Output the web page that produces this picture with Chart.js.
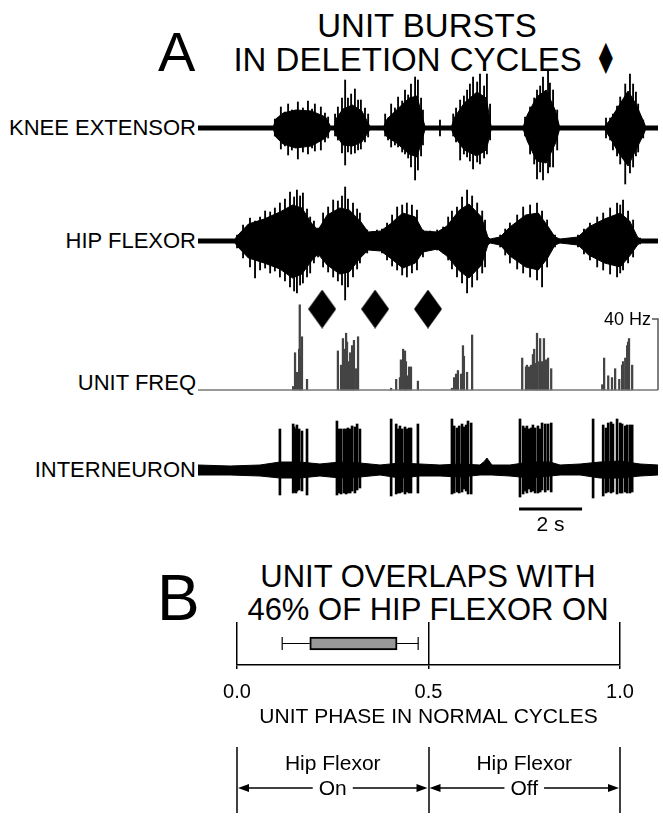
<!DOCTYPE html>
<html>
<head>
<script src="https://cdn.jsdelivr.net/npm/chart.js@4.4.1/dist/chart.umd.min.js"></script>
<style>
    body { margin: 0; background: #fff; }
    #page { position: relative; width: 663px; height: 816px; overflow: hidden;
            font-family: 'Liberation Sans', Arial, Helvetica, sans-serif; color: #000; }
    .txt { position: absolute; white-space: nowrap; line-height: 1; }
    .lbl { position: absolute; right: 467px; font-size: 22px; line-height: 1; white-space: nowrap; }
    .dia { font-family: 'DejaVu Sans', sans-serif; display: inline-block; transform: scale(0.75, 1.3); }
    canvas { position: absolute; }
</style>
</head>
<body>
<div id="page">
    <div class="txt" style="left:158px; top:24px; font-size:56px;">A</div>
    <div class="txt" style="left:227px; width:400px; text-align:center; top:9px; font-size:33px;">UNIT BURSTS</div>
    <div class="txt" style="left:227px; width:400px; text-align:center; top:43px; font-size:33px;">IN DELETION CYCLES <span class="dia">♦</span></div>

    <div class="lbl" style="top:117px;">KNEE EXTENSOR</div>
    <div class="lbl" style="top:230px;">HIP FLEXOR</div>
    <div class="lbl" style="top:372px;">UNIT FREQ</div>
    <div class="lbl" style="top:459px;">INTERNEURON</div>

    <canvas id="knee" width="465" height="135" style="left:198px; top:55px;"></canvas>
    <canvas id="hip" width="465" height="130" style="left:198px; top:180px;"></canvas>
    <canvas id="freq" width="465" height="114" style="left:198px; top:286px;"></canvas>
    <canvas id="inter" width="465" height="128" style="left:198px; top:412px;"></canvas>

    <div class="txt" style="left:157px; top:566px; font-size:64px;">B</div>
    <div class="txt" style="left:228px; width:400px; text-align:center; top:561px; font-size:31px;">UNIT OVERLAPS WITH</div>
    <div class="txt" style="left:228px; width:400px; text-align:center; top:594px; font-size:31px;">46% OF HIP FLEXOR ON</div>

    <canvas id="phase" width="663" height="216" style="left:0px; top:600px;"></canvas>
</div>

<script>
    // sweep length in seconds
    const sweep = [0, 14.6]

    // EMG: solid body of each burst [time s, upper, lower] (arbitrary units)
    const kneeCore = [
        [0, 2, 2], [2.40, 2, 2], [2.47, 9, 9], [2.70, 15, 16], [3.10, 18, 20], [3.60, 17, 18], [4.05, 11, 10], [4.20, 2, 2],
        [4.33, 2, 2], [4.40, 10, 8], [4.60, 19, 17], [4.90, 23, 18], [5.20, 17, 14], [5.45, 2, 2],
        [5.90, 2, 2], [6.00, 9, 9], [6.30, 18, 15], [6.70, 30, 26], [6.95, 32, 29], [7.12, 11, 11], [7.20, 2, 2],
        [8.05, 2, 2], [8.15, 11, 9], [8.45, 25, 22], [8.85, 36, 28], [9.15, 30, 22], [9.30, 2, 2],
        [10.33, 2, 2], [10.45, 13, 13], [10.75, 31, 33], [11.05, 38, 35], [11.35, 17, 15], [11.47, 2, 2],
        [12.92, 2, 2], [13.10, 9, 11], [13.35, 22, 25], [13.65, 37, 38], [13.90, 24, 22], [14.15, 6, 6], [14.20, 2, 2],
        [14.60, 2, 2]
    ]
    // EMG: peak excursions [time s, up, down]
    const kneePeaks = [
        [2.44, 9, 8], [2.63, 21, 21], [2.76, 16, 18], [2.86, 24, 27], [2.98, 18, 22], [3.17, 26, 31], [3.33, 20, 24],
        [3.49, 27, 26], [3.62, 19, 20], [3.71, 24, 23], [3.90, 21, 22], [4.03, 15, 14], [4.13, 11, 10],
        [4.35, 14, 8], [4.44, 21, 12], [4.57, 30, 25], [4.67, 48, 37], [4.76, 30, 24], [4.86, 34, 26], [4.98, 39, 25],
        [5.08, 28, 22], [5.17, 28, 21], [5.30, 20, 14], [5.40, 14, 9],
        [5.94, 14, 8], [6.03, 10, 12], [6.13, 24, 19], [6.25, 20, 17], [6.35, 31, 19], [6.48, 27, 24],
        [6.57, 38, 26], [6.67, 33, 30], [6.76, 44, 39], [6.89, 51, 52], [6.98, 48, 42], [7.08, 30, 28], [7.14, 18, 17],
        [7.68, 8, 8],
        [8.10, 14, 8], [8.19, 20, 14], [8.32, 28, 32], [8.44, 32, 26], [8.54, 38, 29], [8.63, 44, 33],
        [8.73, 51, 41], [8.86, 46, 34], [8.95, 54, 36], [9.08, 42, 30], [9.17, 54, 26], [9.27, 24, 12],
        [10.38, 11, 8], [10.54, 21, 26], [10.67, 30, 36], [10.76, 38, 51], [10.86, 42, 44], [10.95, 51, 52],
        [11.11, 58, 45], [11.17, 45, 39], [11.27, 38, 39], [11.40, 18, 22],
        [12.95, 10, 10], [13.08, 10, 12], [13.17, 14, 22], [13.30, 22, 28], [13.40, 31, 36], [13.56, 44, 56],
        [13.71, 54, 45], [13.81, 44, 39], [13.90, 36, 28], [13.97, 24, 24], [14.13, 8, 10]
    ]
    const hipCore = [
        [0, 2, 2], [1.17, 2, 2], [1.30, 7, 7], [1.60, 17, 17], [2.10, 22, 22], [2.60, 29, 28], [3.00, 36, 37], [3.30, 33, 33],
        [3.60, 18, 20], [3.81, 11, 13], [4.10, 26, 24], [4.50, 33, 33], [4.80, 31, 31], [5.15, 20, 17], [5.40, 9, 9],
        [5.80, 10, 10], [6.10, 17, 17], [6.50, 28, 27], [6.90, 24, 22], [7.14, 10, 11], [7.60, 9, 8], [7.90, 15, 15],
        [8.30, 31, 30], [8.60, 37, 37], [9.00, 24, 24], [9.20, 4, 4], [9.27, 2, 2], [9.59, 4, 4],
        [9.90, 14, 15], [10.40, 26, 26], [10.80, 28, 29], [11.10, 15, 17], [11.33, 4, 4], [11.49, 2, 2],
        [12.06, 4, 4], [12.40, 14, 14], [12.90, 22, 22], [13.40, 28, 26], [13.70, 20, 15], [13.95, 4, 4], [14.03, 2, 2],
        [14.60, 2, 2]
    ]
    const hipPeaks = [
        [1.24, 6, 7], [1.43, 16, 17], [1.65, 23, 26], [1.81, 20, 37], [1.97, 24, 29],
        [2.13, 30, 27], [2.29, 29, 32], [2.44, 33, 30], [2.60, 38, 36], [2.76, 42, 40], [2.92, 49, 46], [3.05, 44, 50],
        [3.14, 51, 52], [3.24, 45, 44], [3.33, 48, 42], [3.46, 32, 36], [3.56, 24, 32], [3.68, 20, 22], [3.81, 13, 16],
        [3.97, 28, 26], [4.13, 34, 31], [4.29, 41, 36], [4.44, 40, 40], [4.57, 45, 44], [4.67, 54, 59], [4.76, 42, 46],
        [4.92, 38, 36], [5.05, 32, 28], [5.14, 28, 22], [5.37, 11, 12], [5.52, 9, 8], [5.68, 11, 9], [5.84, 12, 12],
        [6.00, 18, 19], [6.16, 26, 25], [6.32, 34, 29], [6.48, 36, 34], [6.63, 38, 36], [6.79, 36, 32], [6.95, 31, 29],
        [7.14, 11, 16], [7.37, 10, 9], [7.59, 11, 9], [7.78, 14, 12], [7.94, 24, 19], [8.06, 30, 28], [8.22, 34, 36],
        [8.38, 44, 42], [8.54, 51, 52], [8.70, 45, 46], [8.86, 38, 39], [9.02, 30, 32], [9.11, 21, 26],
        [9.59, 6, 6], [9.75, 12, 14], [9.90, 18, 22], [10.13, 26, 28], [10.32, 34, 32], [10.54, 36, 36], [10.76, 38, 39],
        [10.92, 30, 46], [11.08, 21, 26], [11.33, 6, 6],
        [12.06, 6, 6], [12.25, 12, 13], [12.44, 18, 19], [12.67, 24, 26], [12.86, 28, 29], [13.08, 33, 33], [13.30, 38, 36],
        [13.40, 36, 32], [13.49, 41, 29], [13.65, 30, 22], [13.81, 21, 16], [14.03, 3, 3]
    ]

    // unit instantaneous frequency: [time s, Hz]
    const unitFreq = [
        [3.02, 2], [3.08, 21], [3.14, 10], [3.21, 23], [3.23, 48], [3.27, 19], [3.30, 30], [3.46, 6],
        [4.44, 22], [4.54, 14], [4.57, 9], [4.60, 29], [4.67, 23], [4.70, 32], [4.73, 27], [4.79, 16], [4.83, 21],
        [4.89, 25], [4.92, 11], [4.95, 28], [5.02, 12], [5.08, 30],
        [6.13, 1], [6.29, 6], [6.41, 7], [6.44, 17], [6.51, 23], [6.57, 22], [6.60, 16], [6.63, 8], [6.70, 13], [6.76, 13], [6.98, 5],
        [8.06, 1], [8.13, 7], [8.19, 9], [8.25, 11], [8.35, 9], [8.41, 25], [8.44, 19], [8.54, 10], [8.70, 31],
        [10.29, 18], [10.41, 13], [10.44, 14], [10.51, 13], [10.57, 14], [10.63, 20], [10.67, 23], [10.73, 15], [10.76, 32],
        [10.83, 16], [10.86, 29], [10.92, 16], [10.98, 29], [11.05, 17], [11.11, 18], [11.21, 12],
        [12.83, 3], [12.89, 18], [13.02, 8], [13.14, 7], [13.24, 12], [13.37, 6], [13.46, 14], [13.49, 16], [13.56, 18],
        [13.62, 25], [13.65, 27], [13.68, 29], [13.78, 14]
    ]
    const freqScale = 40
    // deletion cycles (diamonds), time s
    const deletionCycles = [3.94, 5.62, 7.30]
    const diamondLevel = 45.6

    // interneuron: baseline noise [time, up, down], spikes [time, up, down]
    const interNoise = [
        [0, 5, 5], [1.02, 4, 5], [1.97, 5, 6], [2.60, 8, 8], [3.24, 8, 8], [3.87, 6, 6], [4.51, 8, 8], [5.14, 7, 7],
        [5.78, 5, 5], [6.41, 7, 8], [7.05, 6, 6], [7.68, 5, 6], [8.32, 6, 7], [8.95, 5, 5], [9.10, 9, 5], [9.17, 12, 5],
        [9.26, 8, 5], [9.33, 5, 5],
        [9.90, 5, 6], [10.54, 8, 8], [11.17, 8, 6], [11.49, 5, 5], [12.13, 6, 5], [12.76, 8, 8], [13.40, 9, 8],
        [14.03, 6, 6], [14.60, 5, 5]
    ]
    const interSpikes = [
        [2.60, 41, 25], [3.02, 46, 23], [3.05, 43, 22], [3.11, 41, 23], [3.14, 45, 21], [3.21, 41, 20], [3.30, 39, 21], [3.46, 41, 25],
        [4.41, 49, 25], [4.48, 41, 23], [4.54, 41, 24], [4.63, 41, 23], [4.70, 41, 24], [4.76, 42, 23], [4.83, 41, 23],
        [4.89, 44, 21], [4.98, 43, 23], [5.05, 46, 20], [5.14, 41, 18],
        [6.13, 51, 26], [6.29, 46, 24], [6.35, 41, 23], [6.41, 44, 23], [6.48, 41, 22], [6.57, 43, 24], [6.63, 41, 22],
        [6.70, 42, 23], [6.76, 42, 23], [6.98, 46, 23],
        [8.06, 51, 24], [8.13, 44, 23], [8.22, 42, 22], [8.29, 44, 23], [8.38, 46, 22], [8.44, 43, 19], [8.51, 45, 21],
        [8.57, 49, 24], [8.67, 47, 24],
        [10.22, 51, 27], [10.32, 44, 24], [10.38, 42, 21], [10.44, 44, 23], [10.51, 41, 19], [10.57, 42, 22], [10.63, 45, 21],
        [10.70, 42, 23], [10.79, 44, 23], [10.86, 41, 22], [10.92, 47, 20], [11.02, 46, 22], [11.11, 46, 20], [11.21, 47, 22],
        [12.54, 51, 28], [12.86, 45, 26], [12.95, 42, 23], [13.02, 47, 22], [13.11, 48, 23], [13.17, 46, 22], [13.30, 51, 24],
        [13.40, 47, 23], [13.46, 46, 23], [13.56, 44, 22], [13.62, 45, 23], [13.71, 45, 23], [13.78, 45, 22]
    ]
    // time scale bar: start s, length s
    const timeBar = [10.19, 2]

    // panel B
    const phaseBox = [0.19, 0.418]
    const phaseWhiskers = [0.118, 0.473]
    const phaseTicks = [0, 0.5, 1]
    const phaseMuscle = 'Hip Flexor'
    const phaseStates = ['On', 'Off']

    Chart.defaults.font.family = "'Liberation Sans', Arial, Helvetica, sans-serif"
    Chart.defaults.color = '#000'

    function envelope(env) {
        return [{
            type: 'line',
            data: env.map(p => ({ x: p[0], y: p[1] })),
            borderColor: '#000', borderWidth: 1, pointRadius: 0, tension: 0, fill: false
        }, {
            type: 'line',
            data: env.map(p => ({ x: p[0], y: -p[2] })),
            borderColor: '#000', borderWidth: 1, pointRadius: 0, tension: 0,
            fill: '-1', backgroundColor: '#000'
        }]
    }

    function spikes(list, width) {
        return {
            type: 'bar',
            data: list.map(p => ({ x: p[0], y: [-p[2], p[1]] })),
            backgroundColor: '#000', barThickness: width, grouped: false
        }
    }

    function trace(id, datasets, yMin, yMax, extra) {
        return new Chart(document.getElementById(id), {
            type: 'line',
            data: { datasets: datasets },
            options: {
                responsive: false,
                animation: false,
                layout: { autoPadding: false, padding: { left: 0, right: 5, top: 0, bottom: 0 } },
                plugins: { legend: { display: false }, tooltip: { enabled: false } },
                scales: {
                    x: { type: 'linear', min: sweep[0], max: sweep[1], offset: false, display: false },
                    y: { type: 'linear', min: yMin, max: yMax, display: false }
                }
            },
            plugins: extra || []
        })
    }

    trace('knee', envelope(kneeCore).concat([spikes(kneePeaks, 1.2)]), -62, 73)
    trace('hip', envelope(hipCore).concat([spikes(hipPeaks, 1.2)]), -69, 61)

    // elongated diamond marker
    const dia = document.createElement('canvas')
    dia.width = 28; dia.height = 39
    const dctx = dia.getContext('2d')
    dctx.fillStyle = '#000'
    dctx.beginPath()
    dctx.moveTo(14, 0); dctx.lineTo(28, 19.5); dctx.lineTo(14, 39); dctx.lineTo(0, 19.5)
    dctx.closePath(); dctx.fill()

    const freqScaleBar = {
        id: 'freqScaleBar',
        afterDraw(chart) {
            const { ctx, chartArea, scales } = chart
            const x = chartArea.right
            const y0 = scales.y.getPixelForValue(0), y1 = scales.y.getPixelForValue(freqScale)
            ctx.save()
            ctx.strokeStyle = '#555'
            ctx.lineWidth = 1.5
            ctx.beginPath()
            ctx.moveTo(x, y0); ctx.lineTo(x, y1); ctx.lineTo(x - 6, y1)
            ctx.stroke()
            ctx.fillStyle = '#000'
            ctx.font = "18px 'Liberation Sans', Arial"
            ctx.textAlign = 'right'
            ctx.textBaseline = 'alphabetic'
            ctx.fillText(freqScale + ' Hz', x - 7, y1 + 6)
            ctx.restore()
        }
    }

    const freqPx = 71 / freqScale
    trace('freq', [{
        type: 'line',
        data: [{ x: sweep[0], y: 0 }, { x: sweep[1], y: 0 }],
        borderColor: '#777', borderWidth: 1.5, pointRadius: 0
    }, {
        type: 'bar',
        data: unitFreq.map(p => ({ x: p[0], y: p[1] })),
        backgroundColor: '#444', barThickness: 1.6, grouped: false
    }, {
        type: 'scatter',
        data: deletionCycles.map(t => ({ x: t, y: diamondLevel })),
        pointStyle: dia, pointRadius: 14, showLine: false
    }], -10 / freqPx, 104 / freqPx, [freqScaleBar])

    const timeScaleBar = {
        id: 'timeScaleBar',
        afterDraw(chart) {
            const { ctx, scales } = chart
            const xa = scales.x.getPixelForValue(timeBar[0])
            const xb = scales.x.getPixelForValue(timeBar[0] + timeBar[1])
            const y = scales.y.getPixelForValue(0) + 39
            ctx.save()
            ctx.fillStyle = '#000'
            ctx.fillRect(xa, y - 1.5, xb - xa, 3)
            ctx.font = "21px 'Liberation Sans', Arial"
            ctx.textAlign = 'center'
            ctx.textBaseline = 'alphabetic'
            ctx.fillText(timeBar[1] + ' s', (xa + xb) / 2, y + 22)
            ctx.restore()
        }
    }

    trace('inter', envelope(interNoise).concat([spikes(interSpikes, 2)]), -70, 58, [timeScaleBar])

    // panel B: brackets under the phase axis
    function arrow(ctx, from, to, y) {
        const dir = Math.sign(to - from)
        ctx.beginPath()
        ctx.moveTo(from, y); ctx.lineTo(to - dir * 8, y)
        ctx.stroke()
        ctx.beginPath()
        ctx.moveTo(to, y); ctx.lineTo(to - dir * 11, y - 4); ctx.lineTo(to - dir * 11, y + 4)
        ctx.closePath(); ctx.fill()
    }

    const phaseBrackets = {
        id: 'phaseBrackets',
        afterDraw(chart) {
            const { ctx, scales: { x } } = chart
            ctx.save()
            ctx.strokeStyle = '#000'
            ctx.fillStyle = '#000'
            ctx.lineWidth = 1.5
            phaseTicks.forEach(v => {
                const px = Math.round(x.getPixelForValue(v))
                ctx.beginPath(); ctx.moveTo(px, 147); ctx.lineTo(px, 213); ctx.stroke()
            })
            ctx.font = "21px 'Liberation Sans', Arial"
            ctx.textAlign = 'center'
            ctx.textBaseline = 'alphabetic'
            for (let i = 0; i < phaseStates.length; i++) {
                const a = x.getPixelForValue(phaseTicks[i]), b = x.getPixelForValue(phaseTicks[i + 1])
                const c = (a + b) / 2
                ctx.fillText(phaseMuscle, c, 170)
                ctx.fillText(phaseStates[i], c, 195)
                const w = ctx.measureText(phaseStates[i]).width / 2 + 6
                arrow(ctx, c - w, a + 1, 188)
                arrow(ctx, c + w, b - 1, 188)
            }
            ctx.restore()
        }
    }

    new Chart(document.getElementById('phase'), {
        type: 'bar',
        data: {
            datasets: [{
                indexAxis: 'y',
                data: [{ x: phaseBox, y: 0 }],
                barThickness: 13,
                backgroundColor: '#999',
                borderColor: '#000',
                borderWidth: 2,
                borderSkipped: false
            }, {
                type: 'line',
                indexAxis: 'y',
                data: [{ x: phaseWhiskers[0], y: 0 }, { x: phaseBox[0], y: 0 }],
                borderColor: '#000', borderWidth: 1,
                pointStyle: 'line', rotation: 90, pointRadius: [6.5, 0], pointBorderColor: '#000', pointBorderWidth: 1.2
            }, {
                type: 'line',
                indexAxis: 'y',
                data: [{ x: phaseBox[1], y: 0 }, { x: phaseWhiskers[1], y: 0 }],
                borderColor: '#000', borderWidth: 1,
                pointStyle: 'line', rotation: 90, pointRadius: [0, 6.5], pointBorderColor: '#000', pointBorderWidth: 1.2
            }]
        },
        options: {
            indexAxis: 'y',
            responsive: false,
            animation: false,
            layout: { autoPadding: false, padding: { left: 237, right: 43, top: 22, bottom: 86 } },
            plugins: { legend: { display: false }, tooltip: { enabled: false } },
            scales: {
                x: {
                    type: 'linear', min: 0, max: 1, offset: false,
                    afterFit: s => { s.height = 65 },
                    border: { display: true, color: '#000', width: 1.5 },
                    grid: { color: '#000', lineWidth: 1.5, tickLength: 4, offset: false },
                    ticks: { stepSize: 0.5, padding: 11, color: '#000', font: { size: 20 }, callback: v => v.toFixed(1) },
                    title: { display: true, text: 'UNIT PHASE IN NORMAL CYCLES', color: '#000', font: { size: 21 }, padding: { top: 0, bottom: 0 } }
                },
                y: { type: 'linear', min: -1, max: 1, display: false, offset: false }
            }
        },
        plugins: [phaseBrackets]
    })
</script>
</body>
</html>
